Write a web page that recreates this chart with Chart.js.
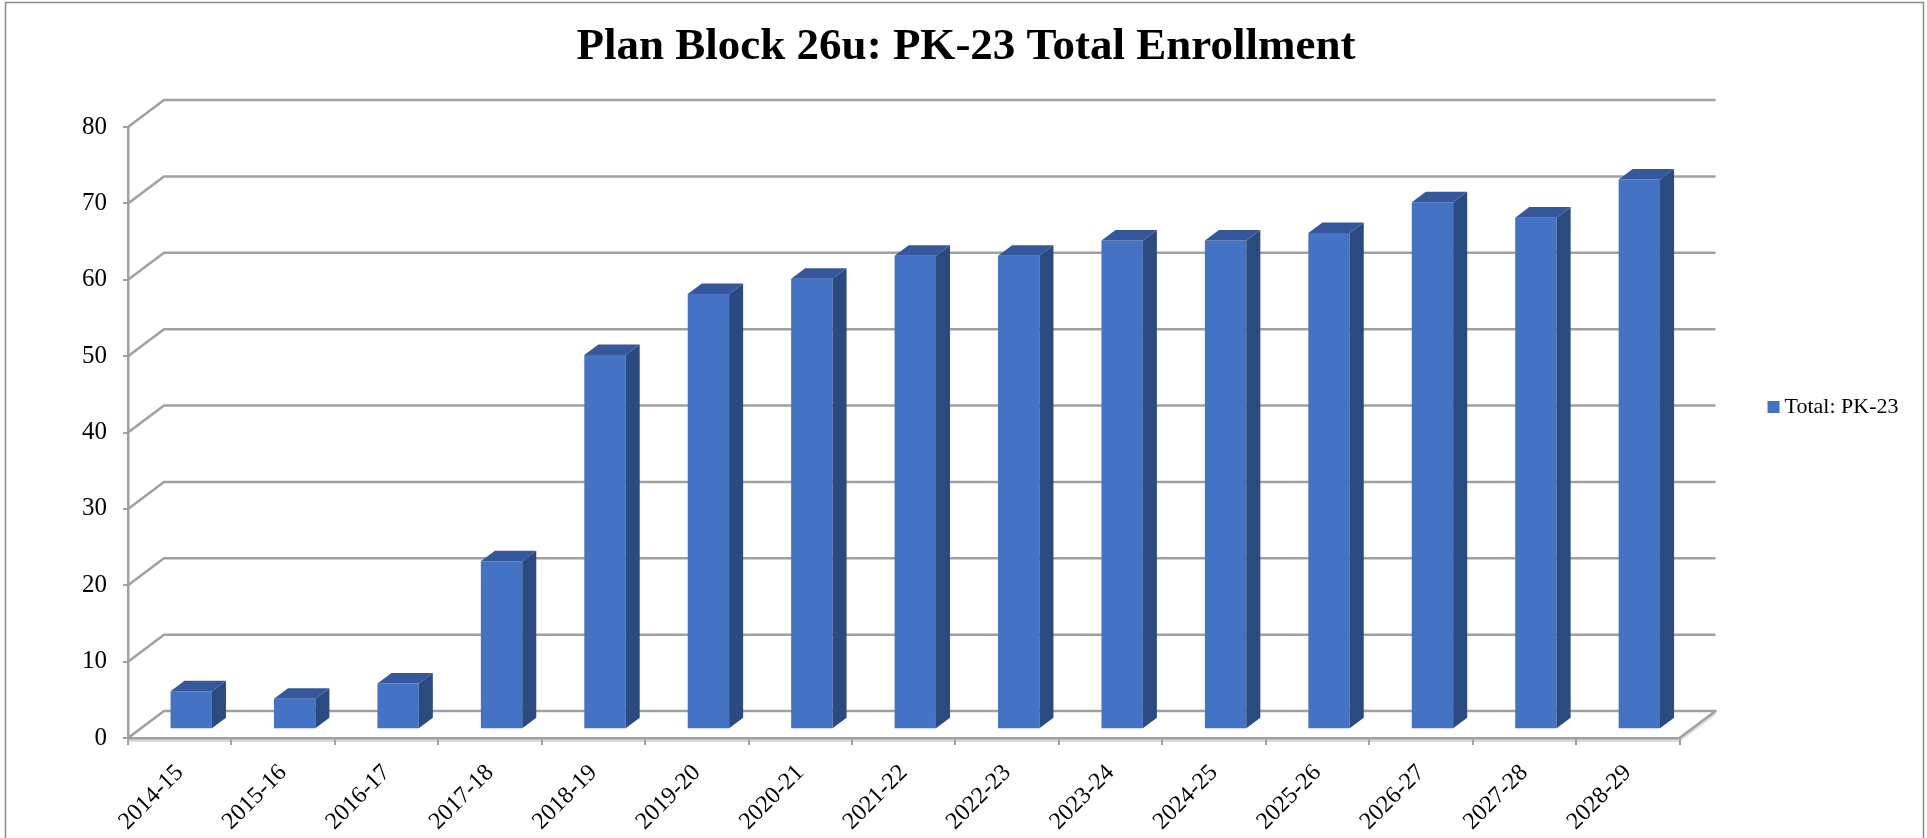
<!DOCTYPE html>
<html>
<head>
<meta charset="utf-8">
<script src="https://cdn.jsdelivr.net/npm/chart.js@4.4.1/dist/chart.umd.min.js"></script>
<style>
  html, body { margin: 0; padding: 0; background: #ffffff; }
  #wrap { width: 1927px; height: 838px; }
</style>
</head>
<body>
<div id="wrap"><canvas id="enrollment" width="1927" height="838"></canvas></div>
<script>
// ---- data ----
const chartTitle = 'Plan Block 26u: PK-23 Total Enrollment';
const seriesLabel = 'Total: PK-23';
const schoolYears = ['2014-15', '2015-16', '2016-17', '2017-18', '2018-19', '2019-20', '2020-21',
  '2021-22', '2022-23', '2023-24', '2024-25', '2025-26', '2026-27', '2027-28', '2028-29'];
const totalPK23 = [5, 4, 6, 22, 49, 57, 59, 62, 62, 64, 64, 65, 69, 67, 72];
const valueTicks = [0, 10, 20, 30, 40, 50, 60, 70, 80];

// ---- look ----
const FONT = 'Liberation Serif, Times New Roman, serif';
const GRID = '#a0a0a0';
const FACE_FRONT = '#4472C4';
const FACE_TOP = '#34589B';
const FACE_SIDE = '#2A4A80';
const DEPTH = { x: 36, y: -27 };   // depth of the floor / back wall
const BAR_SHIFT = 0.32;            // bars stand a third of the way into the floor
const BAR_DEPTH = 0.39;            // thickness of each bar, as a share of the floor depth
const LEGEND_LIFT = 12;            // legend sits slightly above the middle of the canvas

// Walls, floor and the extra faces that give the columns their 3-D look
const depthPlugin = {
  id: 'depth3d',
  afterLayout(chart) {
    if (chart.legend) {
      chart.legend.top -= LEGEND_LIFT;
      chart.legend.bottom -= LEGEND_LIFT;
    }
  },
  beforeDraw(chart) {
    const { ctx, chartArea: a, scales: { y } } = chart;
    ctx.save();
    ctx.fillStyle = '#ffffff';
    ctx.fillRect(0, 0, chart.width, chart.height);
    // thin floor slab under the front edge
    const y0 = y.getPixelForValue(0);
    ctx.fillStyle = '#dcdcdc';
    ctx.beginPath();
    ctx.moveTo(a.left, y0);
    ctx.lineTo(a.right, y0);
    ctx.lineTo(a.right + DEPTH.x, y0 + DEPTH.y);
    ctx.lineTo(a.right + DEPTH.x, y0 + DEPTH.y + 4);
    ctx.lineTo(a.right, y0 + 4);
    ctx.lineTo(a.left, y0 + 4);
    ctx.closePath();
    ctx.fill();
    // outer frame
    ctx.strokeStyle = '#8c8c8c';
    ctx.lineWidth = 1.5;
    ctx.strokeRect(5.5, 2.5, 1918, 900);
    ctx.restore();
  },
  beforeDatasetsDraw(chart) {
    const { ctx, chartArea: a, scales: { y } } = chart;
    ctx.save();
    ctx.strokeStyle = GRID;
    ctx.lineWidth = 2.5;
    ctx.lineJoin = 'round';
    y.ticks.forEach(t => {
      const py = y.getPixelForValue(t.value);
      ctx.beginPath();
      ctx.moveTo(a.left, py);
      ctx.lineTo(a.left + DEPTH.x, py + DEPTH.y);
      ctx.lineTo(a.right + DEPTH.x, py + DEPTH.y);
      if (t.value === 0) ctx.lineTo(a.right, py);
      ctx.stroke();
    });
    ctx.restore();
  },
  beforeDatasetDraw(chart) {
    chart.ctx.save();
    chart.ctx.translate(DEPTH.x * BAR_SHIFT, DEPTH.y * BAR_SHIFT);
  },
  afterDatasetDraw(chart, args) {
    const ctx = chart.ctx;
    const dx = DEPTH.x * BAR_DEPTH, dy = DEPTH.y * BAR_DEPTH;
    args.meta.data.forEach(bar => {
      const { x, y, base, width } = bar.getProps(['x', 'y', 'base', 'width'], true);
      const l = x - width / 2, r = x + width / 2;
      ctx.fillStyle = FACE_SIDE;
      ctx.beginPath();
      ctx.moveTo(r, y);
      ctx.lineTo(r + dx, y + dy);
      ctx.lineTo(r + dx, base + dy);
      ctx.lineTo(r, base);
      ctx.closePath();
      ctx.fill();
      ctx.fillStyle = FACE_TOP;
      ctx.beginPath();
      ctx.moveTo(l, y);
      ctx.lineTo(r, y);
      ctx.lineTo(r + dx, y + dy);
      ctx.lineTo(l + dx, y + dy);
      ctx.closePath();
      ctx.fill();
    });
    ctx.restore();
  }
};

new Chart(document.getElementById('enrollment'), {
  type: 'bar',
  data: {
    labels: schoolYears,
    datasets: [{
      label: seriesLabel,
      data: totalPK23,
      backgroundColor: FACE_FRONT,
      borderWidth: 0,
      categoryPercentage: 1,
      barPercentage: 0.4,
      clip: false
    }]
  },
  options: {
    responsive: false,
    animation: false,
    events: [],
    layout: { padding: { top: 0, left: 23.5, right: 18.5, bottom: 0 } },
    plugins: {
      title: {
        display: true,
        text: chartTitle,
        color: '#000000',
        font: { family: FONT, size: 45, weight: 'bold', lineHeight: 1.2 },
        padding: { top: 20, bottom: 53 }
      },
      legend: {
        position: 'right',
        align: 'center',
        labels: {
          usePointStyle: true,
          pointStyle: 'rect',
          boxWidth: 0.01,
          boxHeight: 12,
          padding: 94,
          color: '#000000',
          font: { family: FONT, size: 22 }
        }
      },
      tooltip: { enabled: false }
    },
    scales: {
      x: {
        afterFit(s) { s.height = 100; },
        grid: { offset: true, drawOnChartArea: false, drawTicks: true, tickLength: 7, color: GRID, lineWidth: 2 },
        border: { display: true, color: GRID, width: 2.5 },
        ticks: {
          autoSkip: false,
          minRotation: 45,
          maxRotation: 45,
          padding: 14,
          color: '#000000',
          font: { family: FONT, size: 24 }
        }
      },
      y: {
        min: 0,
        max: 80,
        afterFit(s) { s.width = 104.5; },
        afterBuildTicks(s) { s.ticks = valueTicks.map(v => ({ value: v })); },
        grid: { drawOnChartArea: false, drawTicks: true, tickLength: 5, color: GRID, lineWidth: 2 },
        border: { display: true, color: GRID, width: 2.5 },
        ticks: {
          padding: 16,
          color: '#000000',
          font: { family: FONT, size: 25 }
        }
      }
    }
  },
  plugins: [depthPlugin]
});
</script>
</body>
</html>
